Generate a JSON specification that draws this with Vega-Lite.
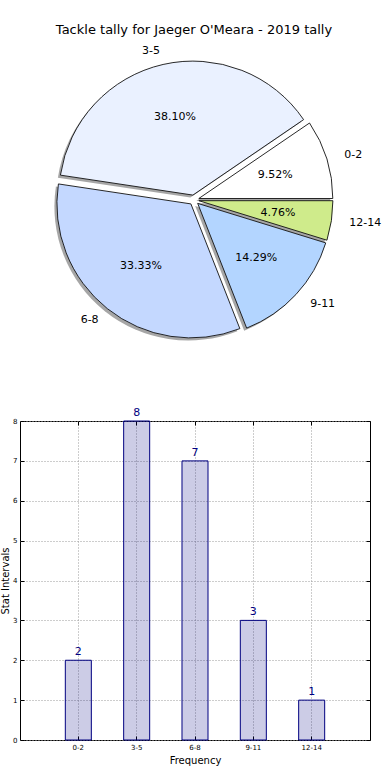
{
  "$schema": "https://vega.github.io/schema/vega-lite/v6.json",
  "padding": {"top": 23, "left": 0, "right": 0, "bottom": 0},
  "bounds": "flush",
  "spacing": 67,
  "config": {
    "font": "DejaVu Sans",
    "view": {"stroke": null},
    "title": {"fontWeight": "normal", "color": "black"}
  },
  "datasets": {
    "tally": [
      {"label": "0-2", "count": 2, "pct": "9.52%"},
      {"label": "3-5", "count": 8, "pct": "38.10%"},
      {"label": "6-8", "count": 7, "pct": "33.33%"},
      {"label": "9-11", "count": 3, "pct": "14.29%"},
      {"label": "12-14", "count": 1, "pct": "4.76%"}
    ]
  },
  "vconcat": [
    {
      "width": 348,
      "height": 308,
      "title": {"text": "Tackle tally for Jaeger O'Meara - 2019 tally", "fontSize": 13, "font": "DejaVu Sans", "fontWeight": "normal", "offset": 8, "anchor": "middle"},
      "data": {"name": "tally"},
      "transform": [
        {"window": [{"op": "row_number", "as": "i"}]},
        {"stack": "count", "groupby": [], "sort": [{"field": "i", "order": "ascending"}], "as": ["s0", "s1"]}
      ],
      "layer": [
        {"transform": [{"filter": "datum.label === '0-2'"}], "mark": {"type": "arc", "outerRadius": 134, "fill": "#000000", "fillOpacity": 0.35, "xOffset": 2.3, "yOffset": 1.0},
         "encoding": {"theta": {"field": "s0", "type": "quantitative", "scale": {"domain": [0, 21], "range": [1.5708, -4.7124]}}, "theta2": {"field": "s1"}}},
        {"transform": [{"filter": "datum.label === '3-5'"}], "mark": {"type": "arc", "outerRadius": 134, "fill": "#000000", "fillOpacity": 0.35, "xOffset": -3.6, "yOffset": -2.4},
         "encoding": {"theta": {"field": "s0", "type": "quantitative", "scale": {"domain": [0, 21], "range": [1.5708, -4.7124]}}, "theta2": {"field": "s1"}}},
        {"transform": [{"filter": "datum.label === '6-8'"}], "mark": {"type": "arc", "outerRadius": 134, "fill": "#000000", "fillOpacity": 0.35, "xOffset": -5.6, "yOffset": 6.4},
         "encoding": {"theta": {"field": "s0", "type": "quantitative", "scale": {"domain": [0, 21], "range": [1.5708, -4.7124]}}, "theta2": {"field": "s1"}}},
        {"transform": [{"filter": "datum.label === '9-11'"}], "mark": {"type": "arc", "outerRadius": 134, "fill": "#000000", "fillOpacity": 0.35, "xOffset": 1.2, "yOffset": 5.9},
         "encoding": {"theta": {"field": "s0", "type": "quantitative", "scale": {"domain": [0, 21], "range": [1.5708, -4.7124]}}, "theta2": {"field": "s1"}}},
        {"transform": [{"filter": "datum.label === '12-14'"}], "mark": {"type": "arc", "outerRadius": 134, "fill": "#000000", "fillOpacity": 0.35, "xOffset": 2.4, "yOffset": 3.2},
         "encoding": {"theta": {"field": "s0", "type": "quantitative", "scale": {"domain": [0, 21], "range": [1.5708, -4.7124]}}, "theta2": {"field": "s1"}}},

        {"transform": [{"filter": "datum.label === '0-2'"}], "mark": {"type": "arc", "outerRadius": 134, "stroke": "#111111", "strokeWidth": 0.9, "xOffset": 4.8, "yOffset": -1.5},
         "encoding": {"theta": {"field": "s0", "type": "quantitative", "scale": {"domain": [0, 21], "range": [1.5708, -4.7124]}}, "theta2": {"field": "s1"},
                      "fill": {"field": "label", "type": "nominal", "legend": null, "scale": {"domain": ["0-2", "3-5", "6-8", "9-11", "12-14"], "range": ["#ffffff", "#eaf1ff", "#c4d8ff", "#b3d5ff", "#cfeb8b"]}}}},
        {"transform": [{"filter": "datum.label === '3-5'"}], "mark": {"type": "arc", "outerRadius": 134, "stroke": "#111111", "strokeWidth": 0.9, "xOffset": -1.1, "yOffset": -4.9},
         "encoding": {"theta": {"field": "s0", "type": "quantitative", "scale": {"domain": [0, 21], "range": [1.5708, -4.7124]}}, "theta2": {"field": "s1"},
                      "fill": {"field": "label", "type": "nominal", "legend": null, "scale": {"domain": ["0-2", "3-5", "6-8", "9-11", "12-14"], "range": ["#ffffff", "#eaf1ff", "#c4d8ff", "#b3d5ff", "#cfeb8b"]}}}},
        {"transform": [{"filter": "datum.label === '6-8'"}], "mark": {"type": "arc", "outerRadius": 134, "stroke": "#111111", "strokeWidth": 0.9, "xOffset": -3.1, "yOffset": 3.9},
         "encoding": {"theta": {"field": "s0", "type": "quantitative", "scale": {"domain": [0, 21], "range": [1.5708, -4.7124]}}, "theta2": {"field": "s1"},
                      "fill": {"field": "label", "type": "nominal", "legend": null, "scale": {"domain": ["0-2", "3-5", "6-8", "9-11", "12-14"], "range": ["#ffffff", "#eaf1ff", "#c4d8ff", "#b3d5ff", "#cfeb8b"]}}}},
        {"transform": [{"filter": "datum.label === '9-11'"}], "mark": {"type": "arc", "outerRadius": 134, "stroke": "#111111", "strokeWidth": 0.9, "xOffset": 3.7, "yOffset": 3.4},
         "encoding": {"theta": {"field": "s0", "type": "quantitative", "scale": {"domain": [0, 21], "range": [1.5708, -4.7124]}}, "theta2": {"field": "s1"},
                      "fill": {"field": "label", "type": "nominal", "legend": null, "scale": {"domain": ["0-2", "3-5", "6-8", "9-11", "12-14"], "range": ["#ffffff", "#eaf1ff", "#c4d8ff", "#b3d5ff", "#cfeb8b"]}}}},
        {"transform": [{"filter": "datum.label === '12-14'"}], "mark": {"type": "arc", "outerRadius": 134, "stroke": "#111111", "strokeWidth": 0.9, "xOffset": 4.9, "yOffset": 0.7},
         "encoding": {"theta": {"field": "s0", "type": "quantitative", "scale": {"domain": [0, 21], "range": [1.5708, -4.7124]}}, "theta2": {"field": "s1"},
                      "fill": {"field": "label", "type": "nominal", "legend": null, "scale": {"domain": ["0-2", "3-5", "6-8", "9-11", "12-14"], "range": ["#ffffff", "#eaf1ff", "#c4d8ff", "#b3d5ff", "#cfeb8b"]}}}},

        {"mark": {"type": "text", "radius": 85, "fontSize": 11, "color": "black", "align": "center", "baseline": "middle"},
         "encoding": {"theta": {"field": "count", "type": "quantitative", "stack": true, "scale": {"domain": [0, 21], "range": [1.5708, -4.7124]}},
                      "order": {"field": "i", "type": "quantitative"},
                      "text": {"field": "pct", "type": "nominal"}}},
        {"mark": {"type": "text", "radius": 153, "fontSize": 11, "color": "black", "align": "right", "baseline": "middle"},
         "encoding": {"theta": {"field": "count", "type": "quantitative", "stack": true, "scale": {"domain": [0, 21], "range": [1.5708, -4.7124]}},
                      "order": {"field": "i", "type": "quantitative"},
                      "text": {"field": "label", "type": "nominal"},
                      "opacity": {"condition": {"test": "datum.label === '3-5' || datum.label === '6-8'", "value": 1}, "value": 0}}},
        {"mark": {"type": "text", "radius": 153, "fontSize": 11, "color": "black", "align": "left", "baseline": "middle", "dx": 4},
         "encoding": {"theta": {"field": "count", "type": "quantitative", "stack": true, "scale": {"domain": [0, 21], "range": [1.5708, -4.7124]}},
                      "order": {"field": "i", "type": "quantitative"},
                      "text": {"field": "label", "type": "nominal"},
                      "opacity": {"condition": {"test": "datum.label === '3-5' || datum.label === '6-8'", "value": 0}, "value": 1}}}
      ]
    },
    {
      "width": 350,
      "height": 319,
      "view": {"stroke": "black", "strokeWidth": 1},
      "data": {"name": "tally"},
      "encoding": {
        "x": {"field": "label", "type": "nominal", "sort": null,
              "scale": {"paddingInner": 0.554, "paddingOuter": 0.777},
              "axis": {"title": "Frequency", "titleFontSize": 10, "titleFontWeight": "normal", "titleColor": "black", "titlePadding": 5,
                       "labelFontSize": 7, "labelColor": "black", "labelAngle": 0, "labelPadding": 7,
                       "domain": false, "ticks": true, "tickSize": -4, "tickColor": "black", "bandPosition": 0.5,
                       "grid": true, "gridDash": [1, 2], "gridColor": "#9a9a9a", "gridOpacity": 1}},
        "y": {"field": "count", "type": "quantitative",
              "scale": {"domain": [0, 8], "nice": false},
              "axis": {"title": "Stat Intervals", "titleFontSize": 10, "titleFontWeight": "normal", "titleColor": "black", "titlePadding": 2,
                       "values": [0, 1, 2, 3, 4, 5, 6, 7, 8], "format": "d",
                       "labelFontSize": 7, "labelColor": "black", "labelPadding": 7,
                       "domain": false, "ticks": true, "tickSize": -4, "tickColor": "black",
                       "grid": true, "gridDash": [1, 2], "gridColor": "#9a9a9a", "gridOpacity": 1}}
      },
      "resolve": {"axis": {"x": "independent", "y": "independent"}},
      "layer": [
        {"mark": {"type": "bar", "fill": "#000080", "fillOpacity": 0.2, "stroke": "#000080", "strokeWidth": 1}},
        {"mark": {"type": "text", "baseline": "bottom", "dy": -3, "color": "#000080", "fontSize": 11},
         "encoding": {
           "x": {"field": "label", "type": "nominal", "sort": null,
                 "axis": {"orient": "top", "labels": false, "title": null, "grid": false, "domain": false, "ticks": true, "tickSize": -4, "tickColor": "black", "bandPosition": 0.5}},
           "y": {"field": "count", "type": "quantitative",
                 "axis": {"orient": "right", "labels": false, "title": null, "grid": false, "domain": false, "ticks": true, "tickSize": -4, "tickColor": "black", "values": [0, 1, 2, 3, 4, 5, 6, 7, 8]}},
           "text": {"field": "count", "type": "quantitative"}}}
      ]
    }
  ]
}
